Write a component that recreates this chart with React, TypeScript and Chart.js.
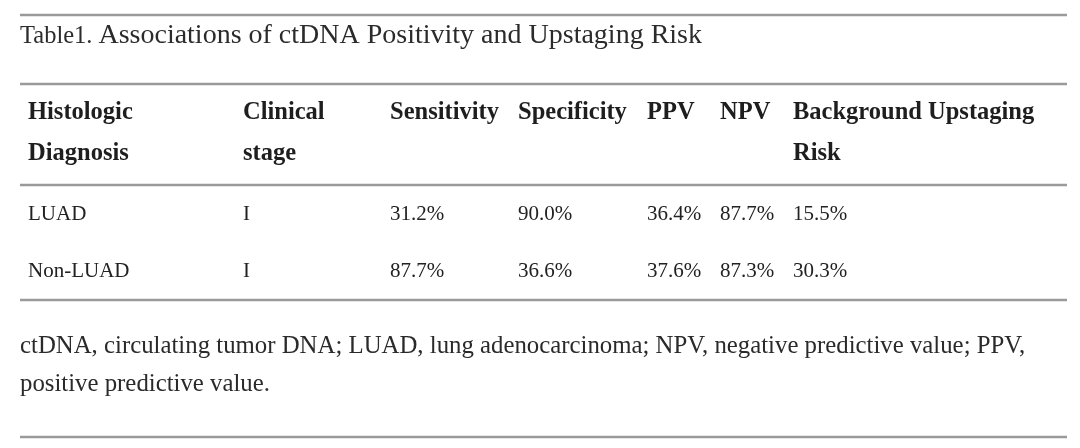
import React, { useEffect, useRef } from "react";
import { Chart, registerables } from "chart.js";

Chart.register(...registerables);

// ---- data ----
const titleLabel = "Table1.";
const titleText = "Associations of ctDNA Positivity and Upstaging Risk";
const headerLines = [
  ["Histologic", "Clinical", "Sensitivity", "Specificity", "PPV", "NPV", "Background Upstaging"],
  ["Diagnosis", "stage", "", "", "", "", "Risk"],
];
const histology = ["LUAD", "Non-LUAD"];
const clinicalStage = ["I", "I"];
const sensitivity = [31.2, 87.7];
const specificity = [90.0, 36.6];
const ppv = [36.4, 37.6];
const npv = [87.7, 87.3];
const backgroundRisk = [15.5, 30.3];
const footnoteLines = [
  "ctDNA, circulating tumor DNA; LUAD, lung adenocarcinoma; NPV, negative predictive value; PPV,",
  "positive predictive value.",
];

// ---- layout (pixel units of the linear scales) ----
const colLeft = [28, 243, 390, 518, 647, 720, 793];
const ruleY = [15, 84, 185, 300, 437];
const ruleX = [20, 1067];
const titleBaseline = 43;
const headerBaselines = [119, 160];
const rowBaselines = [220, 277];
const footBaselines = [353, 391];

const FONT = '"Liberation Serif", "Times New Roman", serif';
const pct = (v: number) => v.toFixed(1) + "%";

const tablePlugin = {
  id: "tableDraw",
  afterDraw(chart: any) {
    const ctx = chart.ctx as CanvasRenderingContext2D;
    const xs = chart.scales.x;
    const ys = chart.scales.y;
    const X = (v: number) => xs.getPixelForValue(v);
    const Y = (v: number) => ys.getPixelForValue(v);
    ctx.save();
    // rules
    ctx.strokeStyle = "#9a9a9a";
    ctx.lineWidth = 2.5;
    ruleY.forEach((ry) => {
      ctx.beginPath();
      ctx.moveTo(X(ruleX[0]), Y(ry));
      ctx.lineTo(X(ruleX[1]), Y(ry));
      ctx.stroke();
    });
    ctx.textBaseline = "alphabetic";
    ctx.textAlign = "left";
    // title
    ctx.fillStyle = "#2b2b2b";
    ctx.font = `24.5px ${FONT}`;
    ctx.fillText(titleLabel, X(20), Y(titleBaseline));
    const lw = ctx.measureText(titleLabel).width;
    ctx.font = `28px ${FONT}`;
    ctx.fillText(titleText, X(20) + lw + 6, Y(titleBaseline));
    // header
    ctx.fillStyle = "#1e1e1e";
    ctx.font = `bold 24.5px ${FONT}`;
    headerLines.forEach((line, li) => {
      line.forEach((t, ci) => {
        if (t) ctx.fillText(t, X(colLeft[ci]), Y(headerBaselines[li]));
      });
    });
    // body rows
    ctx.font = `21px ${FONT}`;
    ctx.fillStyle = "#222222";
    histology.forEach((h, ri) => {
      const cells = [
        h,
        clinicalStage[ri],
        pct(sensitivity[ri]),
        pct(specificity[ri]),
        pct(ppv[ri]),
        pct(npv[ri]),
        pct(backgroundRisk[ri]),
      ];
      cells.forEach((t, ci) => ctx.fillText(t, X(colLeft[ci]), Y(rowBaselines[ri])));
    });
    // footnote
    ctx.font = `24.8px ${FONT}`;
    ctx.fillStyle = "#2a2a2a";
    footnoteLines.forEach((t, i) => ctx.fillText(t, X(20), Y(footBaselines[i])));
    ctx.restore();
  },
};

export default function App() {
  const ref = useRef<HTMLCanvasElement>(null);
  useEffect(() => {
    document.body.style.margin = "0";
    document.body.style.background = "#ffffff";
    const chart = new Chart(ref.current as HTMLCanvasElement, {
      type: "scatter",
      data: { datasets: [{ data: [], showLine: false }] },
      options: {
        responsive: false,
        animation: false,
        layout: { padding: 0 },
        plugins: { legend: { display: false }, tooltip: { enabled: false } },
        scales: {
          x: { type: "linear", min: 0, max: 1080, display: false },
          y: { type: "linear", min: 0, max: 448, reverse: true, display: false },
        },
      },
      plugins: [tablePlugin],
    } as any);
    return () => chart.destroy();
  }, []);
  return (
    <div style={{ width: 1080, height: 448, background: "#fff" }}>
      <canvas ref={ref} width={1080} height={448} style={{ display: "block" }} />
    </div>
  );
}
